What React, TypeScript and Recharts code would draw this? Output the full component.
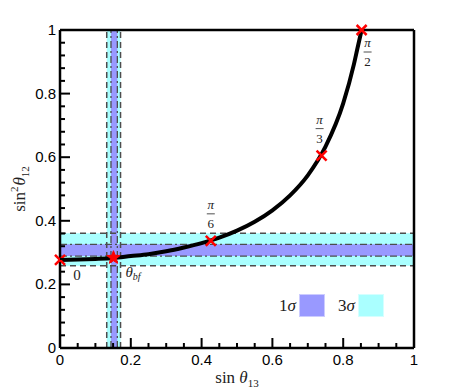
import React from 'react';
import {
  ComposedChart,
  XAxis,
  YAxis,
  Line,
  Scatter,
  ReferenceArea,
  ReferenceLine,
  Legend,
} from 'recharts';

// ---- data ----
const curveX = [0, 0.05, 0.1, 0.15, 0.2, 0.25, 0.3, 0.35, 0.4, 0.45, 0.5, 0.55, 0.6, 0.65, 0.7, 0.75, 0.8, 0.83, 0.84, 0.852];
const curveY = [0.277, 0.278, 0.280, 0.283, 0.289, 0.295, 0.304, 0.316, 0.330, 0.347, 0.369, 0.397, 0.433, 0.480, 0.543, 0.633, 0.769, 0.891, 0.941, 1.0];

const crossX = [0, 0.426, 0.739, 0.852];
const crossY = [0.277, 0.337, 0.605, 1.0];
const crossTags = ['0', '6', '3', '2'];

const bestFitX = [0.151];
const bestFitY = [0.284];

const s13Sigma3 = [0.132, 0.171];
const s13Sigma1 = [0.144, 0.162];
const s12Sigma3 = [0.259, 0.361];
const s12Sigma1 = [0.289, 0.326];

const xTicks = [0, 0.05, 0.1, 0.15, 0.2, 0.25, 0.3, 0.35, 0.4, 0.45, 0.5, 0.55, 0.6, 0.65, 0.7, 0.75, 0.8, 0.85, 0.9, 0.95, 1];
const yTicks = [0, 0.04, 0.08, 0.12, 0.16, 0.2, 0.24, 0.28, 0.32, 0.36, 0.4, 0.44, 0.48, 0.52, 0.56, 0.6, 0.64, 0.68, 0.72, 0.76, 0.8, 0.84, 0.88, 0.92, 0.96, 1];

const legendLabels = ['1', '3'];
const legendColors = ['#9999FF', '#AAFFFF'];

const curveData = curveX.map((x, i) => ({ x, y: curveY[i] }));
const crossData = crossX.map((x, i) => ({ x, y: crossY[i], tag: crossTags[i] }));
const bestFitData = bestFitX.map((x, i) => ({ x, y: bestFitY[i] }));

// ---- styling helpers ----
const SANS = '"Liberation Sans", Arial, sans-serif';
const SERIF = '"Liberation Serif", "DejaVu Serif", serif';
const MAJOR = 10;
const MINOR = 5;
const TICK_W = 2;
const LINE_GRAY = '#4d4d4d';

const isMajor = (v: number) => Math.abs(v * 5 - Math.round(v * 5)) < 1e-6;
const fmt = (v: number) => {
  const r = Math.round(v * 5) / 5;
  if (r === 0) return '0';
  if (r === 1) return '1';
  return r.toFixed(1);
};

const BottomTick = (props: any) => {
  const { x, y, payload } = props;
  const v = payload.value;
  const len = isMajor(v) ? MAJOR : MINOR;
  return (
    <g>
      <line x1={x} y1={y} x2={x} y2={y - len} stroke="#000" strokeWidth={TICK_W} />
      {isMajor(v) && (
        <text x={x} y={y + 17} textAnchor="middle" fontFamily={SANS} fontSize={15} fill="#000">
          {fmt(v)}
        </text>
      )}
    </g>
  );
};

const TopTick = (props: any) => {
  const { x, y, payload } = props;
  const len = isMajor(payload.value) ? MAJOR : MINOR;
  return <line x1={x} y1={y} x2={x} y2={y + len} stroke="#000" strokeWidth={TICK_W} />;
};

const LeftTick = (props: any) => {
  const { x, y, payload } = props;
  const v = payload.value;
  const len = isMajor(v) ? MAJOR : MINOR;
  return (
    <g>
      <line x1={x} y1={y} x2={x + len} y2={y} stroke="#000" strokeWidth={TICK_W} />
      {isMajor(v) && (
        <text x={x - 4} y={y + 5} textAnchor="end" fontFamily={SANS} fontSize={15} fill="#000">
          {fmt(v)}
        </text>
      )}
    </g>
  );
};

const RightTick = (props: any) => {
  const { x, y, payload } = props;
  const len = isMajor(payload.value) ? MAJOR : MINOR;
  return <line x1={x} y1={y} x2={x - len} y2={y} stroke="#000" strokeWidth={TICK_W} />;
};

const PiFraction = ({ cx, barY, den }: { cx: number; barY: number; den: string }) => (
  <g>
    <text x={cx} y={barY - 5} textAnchor="middle" fontFamily={SERIF} fontStyle="italic" fontSize={13} fill="#222">
      π
    </text>
    <line x1={cx - 4} y1={barY} x2={cx + 4} y2={barY} stroke="#222" strokeWidth={0.8} />
    <text x={cx} y={barY + 14} textAnchor="middle" fontFamily={SERIF} fontSize={13} fill="#222">
      {den}
    </text>
  </g>
);

const CrossShape = (props: any) => {
  const { cx, cy, payload } = props;
  const s = 5;
  let label: React.ReactNode = null;
  if (payload.tag === '0') {
    label = (
      <text x={cx + 17} y={cy + 20} textAnchor="middle" fontFamily={SERIF} fontSize={15} fill="#222">
        0
      </text>
    );
  } else if (payload.tag === '6') {
    label = <PiFraction cx={cx} barY={cy - 27} den="6" />;
  } else if (payload.tag === '3') {
    label = <PiFraction cx={cx - 2} barY={cy - 27} den="3" />;
  } else if (payload.tag === '2') {
    label = <PiFraction cx={cx + 6} barY={cy + 22} den="2" />;
  }
  return (
    <g>
      <line x1={cx - s} y1={cy - s} x2={cx + s} y2={cy + s} stroke="#ff0000" strokeWidth={2.5} />
      <line x1={cx - s} y1={cy + s} x2={cx + s} y2={cy - s} stroke="#ff0000" strokeWidth={2.5} />
      {label}
    </g>
  );
};

const StarShape = (props: any) => {
  const { cx, cy } = props;
  const outer = 7;
  const inner = 3;
  const pts: string[] = [];
  for (let i = 0; i < 10; i++) {
    const r = i % 2 === 0 ? outer : inner;
    const a = -Math.PI / 2 + (i * Math.PI) / 5;
    pts.push(`${cx + r * Math.cos(a)},${cy + r * Math.sin(a)}`);
  }
  return (
    <g>
      <polygon points={pts.join(' ')} fill="#ff0000" stroke="#ff0000" strokeWidth={1} />
      <text x={cx + 12} y={cy + 19} fontFamily={SERIF} fontSize={15} fill="#222">
        <tspan fontStyle="italic">θ</tspan>
        <tspan fontStyle="italic" fontSize={10} dy={3}>bf</tspan>
      </text>
    </g>
  );
};

const XLabel = (props: any) => {
  const vb = props.viewBox || { x: 60, y: 348, width: 354 };
  const cx = vb.x + vb.width / 2;
  return (
    <text x={cx} y={vb.y + 35} textAnchor="middle" fontFamily={SERIF} fontSize={17} fill="#222">
      <tspan>sin </tspan>
      <tspan fontStyle="italic">θ</tspan>
      <tspan fontSize={11} dy={4}>13</tspan>
    </text>
  );
};

const YLabel = (props: any) => {
  const vb = props.viewBox || { x: 10, y: 30, width: 50, height: 318 };
  const cy = vb.y + vb.height / 2;
  const x = vb.x + 15;
  return (
    <text
      x={x}
      y={cy}
      transform={`rotate(-90, ${x}, ${cy})`}
      textAnchor="middle"
      fontFamily={SERIF}
      fontSize={17}
      fill="#222"
    >
      <tspan>sin</tspan>
      <tspan fontSize={11} dy={-7}>2</tspan>
      <tspan fontStyle="italic" dy={7} dx={1}>θ</tspan>
      <tspan fontSize={11} dy={4}>12</tspan>
    </text>
  );
};

const LegendContent = () => (
  <div style={{ display: 'flex', alignItems: 'center', fontFamily: SERIF, fontSize: 17, color: '#222' }}>
    {legendLabels.map((lab, i) => (
      <div key={lab} style={{ display: 'flex', alignItems: 'center', marginRight: 13 }}>
        <span style={{ marginRight: 3, fontFamily: SERIF }}>
          {lab}
          <i style={{ fontFamily: SERIF }}>σ</i>
        </span>
        <span
          style={{
            display: 'inline-block',
            width: 26,
            height: 23,
            background: legendColors[i],
            boxShadow: 'inset 0 0 0 1px rgba(255,255,255,0.5)',
          }}
        />
      </div>
    ))}
  </div>
);

export default function App() {
  return (
    <div style={{ position: 'absolute', left: 0, top: 0, background: '#fff' }}>
      <ComposedChart width={459} height={392} margin={{ top: 25, right: 40, bottom: 14, left: 10 }}>
        <XAxis
          dataKey="x"
          type="number"
          domain={[0, 1]}
          ticks={xTicks}
          interval={0}
          tickSize={0}
          tickMargin={0}
          tickLine={false}
          height={30}
          axisLine={{ stroke: '#000', strokeWidth: 2.5 }}
          tick={<BottomTick />}
          label={{ content: (p: any) => <XLabel {...p} /> }}
        />
        <XAxis
          xAxisId="top"
          orientation="top"
          type="number"
          domain={[0, 1]}
          ticks={xTicks}
          interval={0}
          tickSize={0}
          tickMargin={0}
          tickLine={false}
          height={5}
          axisLine={{ stroke: '#000', strokeWidth: 2.5 }}
          tick={<TopTick />}
        />
        <YAxis
          type="number"
          domain={[0, 1]}
          ticks={yTicks}
          interval={0}
          tickSize={0}
          tickMargin={0}
          tickLine={false}
          width={50}
          axisLine={{ stroke: '#000', strokeWidth: 2.5 }}
          tick={<LeftTick />}
          label={{ content: (p: any) => <YLabel {...p} /> }}
        />
        <YAxis
          yAxisId="right"
          orientation="right"
          type="number"
          domain={[0, 1]}
          ticks={yTicks}
          interval={0}
          tickSize={0}
          tickMargin={0}
          tickLine={false}
          width={5}
          axisLine={{ stroke: '#000', strokeWidth: 2.5 }}
          tick={<RightTick />}
        />

        <ReferenceArea x1={s13Sigma3[0]} x2={s13Sigma3[1]} y1={0} y2={1} fill="#AAFFFF" fillOpacity={1} stroke="none" />
        <ReferenceArea x1={0} x2={1} y1={s12Sigma3[0]} y2={s12Sigma3[1]} fill="#AAFFFF" fillOpacity={1} stroke="none" />
        <ReferenceArea x1={s13Sigma1[0]} x2={s13Sigma1[1]} y1={0} y2={1} fill="#9999FF" fillOpacity={1} stroke="none" />
        <ReferenceArea x1={0} x2={1} y1={s12Sigma1[0]} y2={s12Sigma1[1]} fill="#9999FF" fillOpacity={1} stroke="none" />

        {s13Sigma3.map((v) => (
          <ReferenceLine key={'v3' + v} x={v} stroke={LINE_GRAY} strokeWidth={1.5} strokeDasharray="6 4" />
        ))}
        {s13Sigma1.map((v) => (
          <ReferenceLine key={'v1' + v} x={v} stroke={LINE_GRAY} strokeWidth={1.3} strokeDasharray="7 3 2 3" />
        ))}
        {s12Sigma3.map((v) => (
          <ReferenceLine key={'h3' + v} y={v} stroke={LINE_GRAY} strokeWidth={1.5} strokeDasharray="6 4" />
        ))}
        {s12Sigma1.map((v) => (
          <ReferenceLine key={'h1' + v} y={v} stroke={LINE_GRAY} strokeWidth={1.3} strokeDasharray="7 3 2 3" />
        ))}

        <Line
          data={curveData}
          dataKey="y"
          type="monotone"
          stroke="#000"
          strokeWidth={4}
          dot={false}
          activeDot={false}
          isAnimationActive={false}
        />
        <Scatter data={crossData} dataKey="y" shape={<CrossShape />} isAnimationActive={false} />
        <Scatter data={bestFitData} dataKey="y" shape={<StarShape />} isAnimationActive={false} />

        <Legend
          layout="horizontal"
          verticalAlign="middle"
          align="center"
          wrapperStyle={{ position: 'absolute', left: 279, top: 294, width: 130, height: 24 }}
          content={() => <LegendContent />}
        />
      </ComposedChart>
    </div>
  );
}
